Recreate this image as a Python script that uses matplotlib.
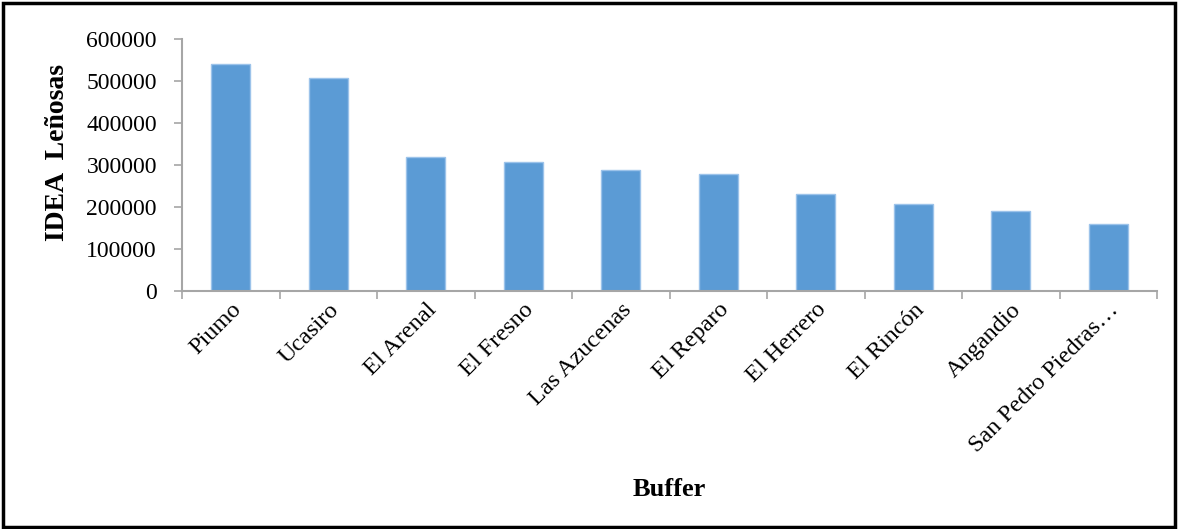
import matplotlib.pyplot as plt
from matplotlib.patches import Rectangle

plt.rcParams['font.family'] = ['Liberation Serif', 'DejaVu Serif']

buffers = ['Piumo', 'Ucasiro', 'El Arenal', 'El Fresno', 'Las Azucenas',
           'El Reparo', 'El Herrero', 'El Rincón', 'Angandio', 'San Pedro Piedras…']
idea_lenosas = [540000, 507000, 319000, 307000, 288000,
                279000, 231000, 207000, 190000, 160000]
yticks = [0, 100000, 200000, 300000, 400000, 500000, 600000]

fig = plt.figure(figsize=(11.78, 5.29), dpi=100)
ax = fig.add_axes([182 / 1178, 1 - 291 / 529, 975 / 1178, 252 / 529])

x = range(len(buffers))
ax.bar(x, idea_lenosas, width=0.4, color='#5b9bd5', edgecolor='#9cc3ea', linewidth=1)

ax.set_xlim(-0.5, len(buffers) - 0.5)
ax.set_ylim(0, 600000)
ax.set_yticks(yticks)
ax.set_yticklabels([str(v) for v in yticks], fontsize=17)
ax.set_xticks(list(x))
ax.set_xticklabels(buffers, rotation=45, ha='right', va='top',
                   rotation_mode='anchor', fontsize=17.5)
ax.tick_params(axis='x', length=0, pad=6)
ax.set_xticks([i - 0.5 for i in range(len(buffers) + 1)], minor=True)
ax.tick_params(axis='x', which='minor', length=6, color='#a6a6a6', width=1.2)
ax.tick_params(axis='y', length=6, color='#a6a6a6', width=1.2, pad=12)

for side in ['top', 'right']:
    ax.spines[side].set_visible(False)
for side in ['left', 'bottom']:
    ax.spines[side].set_color('#a6a6a6')
    ax.spines[side].set_linewidth(1.5)

ax.set_ylabel('IDEA  Leñosas', fontsize=20, fontweight='bold')
ax.yaxis.set_label_coords(-0.115, 0.55)
fig.text(669.5 / 1178, 1 - 490 / 529, 'Buffer', fontsize=19, fontweight='bold',
         ha='center', va='center')

# frame around the whole picture
fig.patches.append(Rectangle((3 / 1178, 2 / 529), 1172 / 1178, 524 / 529,
                             transform=fig.transFigure, fill=False,
                             edgecolor='black', linewidth=2.5))

fig.savefig('out.png', dpi=100)
